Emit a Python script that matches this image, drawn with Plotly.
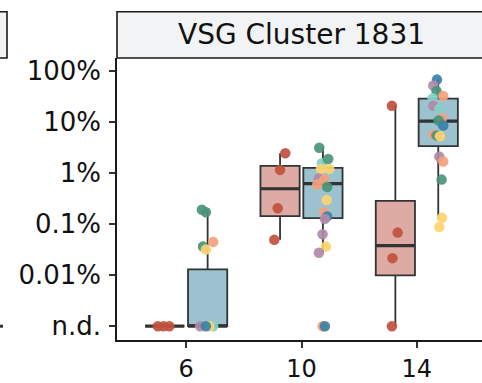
import plotly.graph_objects as go
import numpy as np

# ---------------- data ----------------
days = ["6", "10", "14"]
ND = 1e-5  # position used for "not detected"

# precomputed box statistics (fraction of population, 1 = 100%)
red_q1 = [ND, 0.001426, 0.000099]
red_med = [ND, 0.0049, 0.000378]
red_q3 = [ND, 0.0138, 0.00284]
red_lo = [ND, 0.00049, ND]
red_hi = [ND, 0.0243, 0.2056]

blue_q1 = [ND, 0.0013, 0.0336]
blue_med = [ND, 0.00617, 0.103]
blue_q3 = [0.000129, 0.0126, 0.285]
blue_lo = [ND, 0.000275, 0.00132]
blue_hi = [0.0019, 0.0312, 0.671]

# individual points (0 = n.d.)
red_pts = {
    "6": [0, 0, 0],
    "10": [0.0243, 0.01148, 0.00204, 0.00049],
    "14": [0.2056, 0.00068, 0.000215, 0],
}
red_jit = {
    "6": [-0.06, -0.01, 0.04],
    "10": [0.045, 0.0, -0.02, -0.05],
    "14": [-0.03, 0.02, -0.025, -0.03],
}

blue_pts = {
    "6": [0.0019, 0.0017, 0.000447, 0.000363, 0.000316, 0, 0, 0, 0],
    "10": [0.0312, 0.0155, 0.0188, 0.0120, 0.0120, 0.00776, 0.00741, 0.00596,
           0.00531, 0.00295, 0.0017, 0.00141, 0.00126, 0.00063, 0.000363,
           0.000275, 0, 0],
    "14": [0.671, 0.515, 0.40, 0.321, 0.29, 0.2056, 0.178, 0.1175, 0.106,
           0.0851, 0.0562, 0.0543, 0.0525, 0.0209, 0.0168, 0.00741, 0.00132,
           0.00087],
}
blue_grp = {
    "6": ["green", "green", "orange", "green", "yellow", "purple", "cyan", "yellow", "blue"],
    "10": ["green", "cyan", "green", "yellow", "yellow", "purple", "orange", "orange",
           "green", "yellow", "orange", "blue", "purple", "purple", "yellow",
           "purple", "orange", "blue"],
    "14": ["blue", "purple", "green", "orange", "cyan", "purple", "cyan", "orange",
           "green", "blue", "orange", "green", "yellow", "purple", "orange",
           "green", "yellow", "yellow"],
}
blue_jit = {
    "6": [-0.05, -0.015, 0.048, -0.04, -0.015, -0.065, 0.048, 0.015, -0.015],
    "10": [-0.032, -0.009, 0.046, -0.017, 0.055, -0.037, 0.011, -0.049, 0.037,
           0.032, 0.009, 0.037, 0.017, -0.003, 0.026, -0.035, -0.003, 0.017],
    "14": [-0.011, -0.043, -0.015, 0.043, -0.049, -0.043, 0.009, 0.032, 0.003,
           0.043, -0.041, -0.015, 0.015, 0.009, 0.043, 0.029, 0.032, 0.009],
}

# ---------------- style ----------------
pal = {
    "red": "#C0503E", "green": "#4A9478", "orange": "#F4A07C", "yellow": "#FDD36F",
    "purple": "#B08AA8", "cyan": "#86D0C8", "blue": "#3A82A6",
}
red_fill = "#DEABA4"
blue_fill = "#9CC2D0"
edge = "#333333"
dodge = 0.186
bw = 0.34
FONT = "DejaVu Sans, Liberation Sans, Arial, sans-serif"

xpos = np.arange(1, len(days) + 1)
fig = go.Figure()

for q1, med, q3, lo, hi, fill, off in [
    (red_q1, red_med, red_q3, red_lo, red_hi, red_fill, -dodge),
    (blue_q1, blue_med, blue_q3, blue_lo, blue_hi, blue_fill, dodge),
]:
    fig.add_trace(go.Box(
        x=list(xpos + off), q1=q1, median=med, q3=q3, lowerfence=lo, upperfence=hi,
        width=bw, whiskerwidth=0, fillcolor=fill,
        line=dict(color=edge, width=1.8), boxpoints=False, showlegend=False,
        hoverinfo="skip",
    ))
    # thicker median bars
    mx, my = [], []
    for p, m in zip(xpos + off, med):
        mx += [p - bw / 2, p + bw / 2, None]
        my += [m, m, None]
    fig.add_trace(go.Scatter(x=mx, y=my, mode="lines", line=dict(color=edge, width=3.2),
                             showlegend=False, hoverinfo="skip"))

for i, d in enumerate(days):
    ys = [v if v > 0 else ND for v in red_pts[d]]
    xs = [xpos[i] - dodge + j for j in red_jit[d]]
    fig.add_trace(go.Scatter(x=xs, y=ys, mode="markers",
                             marker=dict(size=10.5, color=pal["red"], opacity=0.92),
                             showlegend=False))
    ys = [v if v > 0 else ND for v in blue_pts[d]]
    xs = [xpos[i] + dodge + j for j in blue_jit[d]]
    fig.add_trace(go.Scatter(x=xs, y=ys, mode="markers",
                             marker=dict(size=10.5, color=[pal[g] for g in blue_grp[d]],
                                         opacity=0.92),
                             showlegend=False))

W, H = 482, 383
L, R, T, B = 117, 0, 58, 38
ph = H - T - B
pw = W - L - R
strip_h = 47 / ph

shapes = [
    dict(type="rect", xref="paper", yref="paper", x0=0, x1=1.05, y0=1, y1=1 + strip_h,
         line=dict(color="#1a1a1a", width=1.6), fillcolor="#F2F3F5", layer="below"),
    dict(type="rect", xref="paper", yref="paper", x0=-0.5, x1=(7 - L) / pw, y0=1,
         y1=1 + strip_h, line=dict(color="#1a1a1a", width=1.6), fillcolor="#F2F3F5"),
    dict(type="line", xref="paper", yref="y", x0=-0.35, x1=(3 - L) / pw, y0=ND, y1=ND,
         line=dict(color=edge, width=3)),
]

fig.update_layout(
    width=W, height=H, margin=dict(l=L, r=R, t=T, b=B),
    paper_bgcolor="white", plot_bgcolor="white",
    boxmode="overlay", shapes=shapes,
    annotations=[dict(text="VSG Cluster 1831", xref="paper", yref="paper",
                      x=(301 - L) / pw, y=1 + strip_h / 2, showarrow=False,
                      xanchor="center", yanchor="middle",
                      font=dict(family=FONT, size=28, color="#111111"))],
    font=dict(family=FONT, color="#111111"),
)
fig.update_xaxes(
    range=[0.4, 3.6 - (486 - 482) / 115.5], tickvals=list(xpos), ticktext=days,
    showgrid=False, zeroline=False, showline=True, linecolor="#1a1a1a", linewidth=1.6,
    ticks="outside", ticklen=6, tickwidth=1.6, tickcolor="#333333",
    tickfont=dict(family=FONT, size=24, color="#111111"),
)
fig.update_yaxes(
    type="log", range=[-5.27, 0.25],
    tickvals=[1e-5, 1e-4, 1e-3, 1e-2, 1e-1, 1],
    ticktext=["n.d.", "0.01%", "0.1%", "1%", "10%", "100%"],
    showgrid=False, zeroline=False, showline=True, linecolor="#1a1a1a", linewidth=1.6,
    ticks="outside", ticklen=6, tickwidth=1.6, tickcolor="#333333",
    ticklabelstandoff=3,
    tickfont=dict(family=FONT, size=26, color="#111111"),
)

fig.write_html("out.html")
